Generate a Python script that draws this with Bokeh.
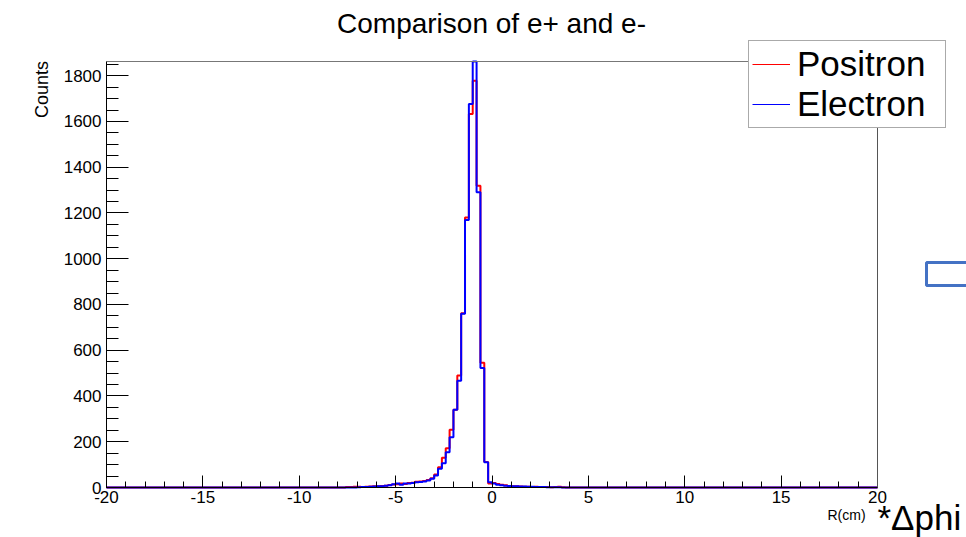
import numpy as np
from math import pi
from bokeh.plotting import figure
from bokeh.models import (Range1d, SingleIntervalTicker, FixedTicker, Label, Legend,
                          LegendItem, LinearAxis, CustomJSTickFormatter)
from bokeh.embed import file_html
from bokeh.resources import INLINE

# ---- data -----------------------------------------------------------
x_min, x_max = -20.0, 20.0
bin_width = 0.2
y_top = 1862
region_start = -7.6   # first non-empty bin (lower edge); all other bins are 0

positron = [2, 2, 3,
            3, 2, 3, 4, 5, 5, 7, 8, 11, 13,
            14, 18, 15, 20, 21, 25, 26, 28, 33, 40,
            57, 89, 130, 172, 252, 340, 489, 762, 1180, 1632,
            1778, 1319, 545, 112, 18, 20, 15, 12, 10, 6,
            5, 5, 4, 3, 3, 2, 3, 2, 2, 2, 1, 2, 3, 1, 0]
electron = [0, 0, 0,
            1, 2, 2, 3, 4, 5, 6, 8, 10, 14,
            17, 12, 17, 17, 20, 23, 24, 26, 31, 38,
            52, 82, 106, 154, 220, 340, 467, 759, 1169, 1676,
            1950, 1290, 522, 110, 23, 17, 12, 10, 8, 7,
            6, 5, 4, 4, 3, 3, 2, 2, 2, 1, 1, 1, 1, 0, 0]

title_text = "Comparison of e+ and e-"
y_label = "Counts"
x_label = "R(cm)"
x_extra = "*\u0394phi"
series_names = ["Positron", "Electron"]
series_colors = ["#ff0000", "#0000ff"]

# ---- layout (picture pixels of the histogram frame) ----------------
W, H = 966, 537
PAGE = 0
FR_L, FR_R, FR_T, FR_B = 106, 877, 61, 487
sx = (x_max - x_min) / (FR_R - FR_L)     # data units per px (x)
sy = y_top / (FR_B - FR_T)               # counts per px (y)
xr = Range1d(x_min - (FR_L - PAGE) * sx, x_max + (PAGE + W - FR_R) * sx)
yr = Range1d(-(PAGE + H - FR_B) * sy, (FR_B - PAGE) * sy)

def px2x(px):
    return x_min + (px - FR_L) * sx

def py2y(py):
    return (FR_B - py) * sy

# ---- build full histograms ---------------------------------------
n_bins = int(round((x_max - x_min) / bin_width))
edges = np.linspace(x_min, x_max, n_bins + 1)
start = int(round((region_start - x_min) / bin_width))

def full_hist(vals):
    h = np.zeros(n_bins)
    h[start:start + len(vals)] = vals
    h = np.minimum(h, y_top)   # histogram is clipped at the frame top
    return np.append(h, h[-1])

FONT = "Liberation Sans"

p = figure(width=W, height=H, output_backend="svg", toolbar_location=None,
           x_range=xr, y_range=yr, x_axis_location=None, y_axis_location=None,
           min_border=0)
p.background_fill_color = "white"
p.border_fill_color = "white"
p.outline_line_color = None
p.xgrid.visible = False
p.ygrid.visible = False

legend_renderers = []
for vals, col in zip([positron, electron], series_colors):
    hist = full_hist(vals)
    p.step(edges, hist, mode="after", line_color=col, line_width=2)
    # hidden thin copy, used only for the legend swatch
    legend_renderers.append(p.step(edges, hist, mode="after", line_color=col,
                                   line_width=1.2, visible=False))

fmt = CustomJSTickFormatter(code="return String(Math.round(tick));")

# bottom axis
xa = LinearAxis(fixed_location=0, bounds=(x_min, x_max),
                ticker=SingleIntervalTicker(interval=5, num_minor_ticks=5),
                formatter=fmt)
xa.major_tick_in = 12
xa.major_tick_out = 0
xa.minor_tick_in = 6
xa.minor_tick_out = 0
xa.major_label_standoff = 3
xa.major_label_text_font = FONT
xa.major_label_text_font_size = "17px"
xa.major_label_text_color = "black"
xa.axis_line_color = "black"
xa.major_tick_line_color = "black"
xa.minor_tick_line_color = "black"
p.add_layout(xa, "below")

# left axis
ya = LinearAxis(fixed_location=x_min, bounds=(0, y_top),
                ticker=SingleIntervalTicker(interval=200, num_minor_ticks=4),
                formatter=fmt)
ya.major_tick_in = 22
ya.major_tick_out = 0
ya.minor_tick_in = 12
ya.minor_tick_out = 0
ya.major_label_standoff = 5
ya.major_label_text_font = FONT
ya.major_label_text_font_size = "17px"
ya.major_label_text_color = "black"
ya.axis_line_color = "black"
ya.major_tick_line_color = "black"
ya.minor_tick_line_color = "black"
p.add_layout(ya, "left")

# top and right frame lines
ta = LinearAxis(fixed_location=y_top, bounds=(x_min, x_max),
                ticker=FixedTicker(ticks=[]), axis_line_color="#777777",
                major_tick_in=0, major_tick_out=0, minor_tick_in=0, minor_tick_out=0,
                major_label_text_alpha=0)
p.add_layout(ta, "above")
ra = LinearAxis(fixed_location=x_max, bounds=(0, y_top),
                ticker=FixedTicker(ticks=[]), axis_line_color="#555555",
                major_tick_in=0, major_tick_out=0, minor_tick_in=0, minor_tick_out=0,
                major_label_text_alpha=0)
p.add_layout(ra, "right")

# texts
p.add_layout(Label(x=px2x(491), y=py2y(23), text=title_text, text_font=FONT,
                   text_font_size="28px", text_align="center",
                   text_baseline="middle", text_color="black"))
p.add_layout(Label(x=px2x(41), y=py2y(89), text=y_label, text_font=FONT,
                   text_font_size="18px", text_align="center",
                   text_baseline="middle", angle=pi / 2, text_color="black"))
p.add_layout(Label(x=px2x(827), y=py2y(514), text=x_label, text_font=FONT,
                   text_font_size="14px", text_align="left",
                   text_baseline="middle", text_color="black"))
p.add_layout(Label(x=px2x(877), y=py2y(517), text=x_extra, text_font=FONT,
                   text_font_size="35px", text_align="left",
                   text_baseline="middle", text_color="black"))

# decorative box at right
p.add_layout(Label(x=px2x(926), y=py2y(262), text="\u2003\u2003\u2003", text_font=FONT,
                   text_font_size="16px", text_baseline="top",
                   border_line_color="#4472C4", border_line_width=3,
                   background_fill_color=None, padding=3))

legend = Legend(items=[LegendItem(label=n, renderers=[r])
                       for n, r in zip(series_names, legend_renderers)],
                location=(748 - PAGE, PAGE + H - 128), orientation="vertical")
legend.label_text_font = FONT
legend.label_text_font_size = "35px"
legend.label_text_color = "black"
legend.label_height = 38
legend.label_width = 145
legend.glyph_height = 38
legend.glyph_width = 38
legend.label_standoff = 7
legend.spacing = 0
legend.padding = 3
legend.margin = 0
legend.border_line_color = "#555555"
legend.border_line_width = 1
legend.background_fill_alpha = 1
p.add_layout(legend, "center")

open("out.html", "w").write(file_html(p, INLINE))
